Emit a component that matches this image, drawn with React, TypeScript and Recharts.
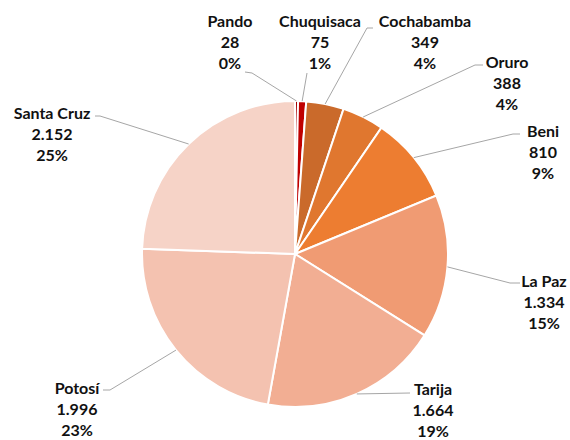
import React from 'react';
import { PieChart, Pie, Cell } from 'recharts';

const departments = ['Pando', 'Chuquisaca', 'Cochabamba', 'Oruro', 'Beni', 'La Paz', 'Tarija', 'Potosí', 'Santa Cruz'];
const counts = [28, 75, 349, 388, 810, 1334, 1664, 1996, 2152];
const percentLabels = ['0%', '1%', '4%', '4%', '9%', '15%', '19%', '23%', '25%'];
const colors = ['#A50000', '#C00000', '#CA6A2B', '#E0772F', '#ED7D31', '#F09B73', '#F2AE93', '#F4C2B0', '#F6D3C7'];

// label layout, offsets relative to the pie centre: text centre (tx, ty), line end (ex, ey), elbow (kx, ky)
const labelLayout = [
  { tx: -65, ty: -234, ex: -50, ey: -182, kx: -43, ky: -181 },
  { tx: 25, ty: -234, ex: 12, ey: -181, kx: 12, ky: -181 },
  { tx: 130, ty: -234, ex: 78, ey: -226, kx: 72, ky: -226 },
  { tx: 212, ty: -193, ex: 188, ey: -189, kx: 180, ky: -189 },
  { tx: 248, ty: -124, ex: 225, ey: -120, kx: 218, ky: -120 },
  { tx: 249, ty: 26, ex: 225, ey: 29, kx: 215, ky: 29 },
  { tx: 138, ty: 134, ex: 115, ey: 139, kx: null, ky: null },
  { tx: -218, ty: 133, ex: -192, ey: 136, kx: -185, ky: 136 },
  { tx: -243, ty: -142, ex: -200, ey: -138, kx: -195, ky: -138 },
];

const data = departments.map((name, i) => ({ name, value: counts[i], pct: percentLabels[i] }));

const fmt = (n: number) => String(n).replace(/\B(?=(\d{3})+(?!\d))/g, '.');

const RAD = Math.PI / 180;

const renderLabel = (props: any) => {
  const { cx, cy, midAngle, outerRadius, index } = props;
  const L = labelLayout[index];
  const px = cx + outerRadius * Math.cos(-midAngle * RAD);
  const py = cy + outerRadius * Math.sin(-midAngle * RAD);
  const kx = L.kx == null ? px : cx + L.kx;
  const ky = L.ky == null ? py : cy + L.ky;
  const ex = cx + L.ex;
  const ey = cy + L.ey;
  const tx = cx + L.tx;
  const ty = cy + L.ty;
  const d = data[index];
  const common = {
    x: tx,
    textAnchor: 'middle' as const,
    dominantBaseline: 'central' as const,
    fill: '#111',
    fontFamily: 'Lato, "Open Sans", sans-serif',
    fontWeight: 700,
    fontSize: 16,
  };
  return (
    <g key={`lbl-${index}`}>
      <polyline points={`${px},${py} ${kx},${ky} ${ex},${ey}`} fill="none" stroke="#A6A6A6" strokeWidth={1} />
      <text {...common} y={ty}>{d.name}</text>
      <text {...common} y={ty + 21.2}>{fmt(d.value)}</text>
      <text {...common} y={ty + 42.4}>{d.pct}</text>
    </g>
  );
};

export default function App() {
  return (
    <div style={{ position: 'absolute', left: 0, top: 0, width: 570, height: 440, background: '#fff' }}>
      <PieChart width={570} height={440} margin={{ top: 0, right: 0, bottom: 0, left: 0 }}>
        <Pie
          data={data}
          dataKey="value"
          nameKey="name"
          cx={295}
          cy={254}
          outerRadius={153}
          startAngle={90}
          endAngle={-270}
          stroke="#FFFFFF"
          strokeWidth={2}
          labelLine={false}
          label={renderLabel}
          isAnimationActive={false}
        >
          {data.map((d, i) => (
            <Cell key={d.name} fill={colors[i]} />
          ))}
        </Pie>
      </PieChart>
    </div>
  );
}
